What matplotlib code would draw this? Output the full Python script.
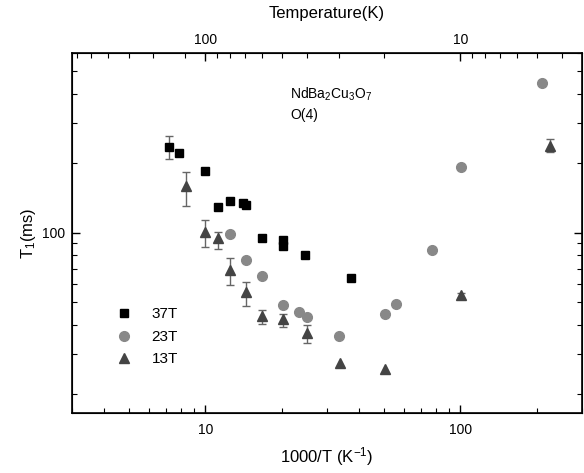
import numpy as np
import matplotlib
matplotlib.use("Agg")
import matplotlib.pyplot as plt
from matplotlib.ticker import FixedLocator, NullFormatter, FixedFormatter

plt.rcParams["font.family"] = ["Liberation Sans", "DejaVu Sans"]
plt.rcParams["mathtext.fontset"] = "custom"
plt.rcParams["mathtext.rm"] = "Liberation Sans"
plt.rcParams["mathtext.it"] = "Liberation Sans:italic"

# 37T
x37 = [7.2, 7.86, 10.0, 11.2, 12.5, 14.0, 14.4, 16.7, 20.1, 20.1, 24.6, 37.4]
y37 = [236, 221, 185, 129, 137, 134, 132, 95, 93, 88, 80, 64]
lo37 = [209, np.nan, np.nan, np.nan, np.nan, np.nan, np.nan, np.nan, np.nan, np.nan, np.nan, np.nan]
hi37 = [261, np.nan, np.nan, np.nan, np.nan, np.nan, np.nan, np.nan, np.nan, np.nan, np.nan, np.nan]

# 23T
x23 = [12.5, 14.4, 16.7, 20.1, 23.4, 25.1, 33.5, 50.5, 56.1, 77.6, 101, 209]
y23 = [99, 76, 64.7, 48.6, 45.4, 43.3, 35.9, 44.6, 49.3, 84.4, 192, 447]

# 13T
x13 = [8.37, 10.0, 11.2, 12.5, 14.4, 16.7, 20.1, 25.1, 33.6, 50.5, 101, 225]
y13 = [159, 101, 95, 69, 55.2, 43.7, 42.3, 36.8, 27.2, 25.7, 53.6, 238]
lo13 = [131, 86.5, 85.3, 59.4, 48.0, 40.3, 39.1, 33.3, np.nan, np.nan, 52.2, 222.6]
hi13 = [183, 114, 101, 77.4, 61.2, 46.4, 44.5, 39.7, np.nan, np.nan, 55.0, 255]

x_major = [10, 100]
y_major = [100]
temp_major = [100, 10]
temp_minor = [320, 280, 240, 200, 160, 120, 90, 80, 70, 60, 50, 40, 30, 20, 9, 8, 7, 6, 5, 4]


def add_errors(ax, x, y, lo, hi, color):
    x, y, lo, hi = map(np.asarray, (x, y, lo, hi))
    ok = np.isfinite(lo)
    ax.errorbar(x[ok], y[ok], yerr=[y[ok] - lo[ok], hi[ok] - y[ok]], fmt="none",
                ecolor=color, elinewidth=1.0, capsize=3, capthick=1.0, zorder=2)


fig = plt.figure(figsize=(5.84, 4.73), dpi=100)
ax = fig.add_axes([0.1233, 0.127, 0.8733, 0.761])
ax.set_xscale("log")
ax.set_yscale("log")

add_errors(ax, x37, y37, lo37, hi37, "#666666")
add_errors(ax, x13, y13, lo13, hi13, "#666666")
ax.plot(x37, y37, "s", color="black", ms=6.3, mec="black", zorder=3, label="37T")
ax.plot(x23, y23, "o", color="#888888", ms=7, mec="#888888", zorder=3, label="23T")
ax.plot(x13, y13, "^", color="#444444", ms=7, mec="#444444", zorder=3, label="13T")

ax.set_xlim(3, 300)
ax.set_ylim(16.6, 600)
ax.xaxis.set_major_locator(FixedLocator(x_major))
ax.xaxis.set_major_formatter(FixedFormatter([str(v) for v in x_major]))
ax.yaxis.set_major_locator(FixedLocator(y_major))
ax.yaxis.set_major_formatter(FixedFormatter([str(v) for v in y_major]))
ax.xaxis.set_minor_formatter(NullFormatter())
ax.yaxis.set_minor_formatter(NullFormatter())
ax.tick_params(which="both", direction="in", top=False, right=True, labelsize=10)
ax.tick_params(axis="x", which="both", pad=7)
ax.tick_params(axis="y", which="both", pad=5)
ax.tick_params(which="major", length=6, width=1)
ax.tick_params(which="minor", length=3.5, width=0.8)
for s in ax.spines.values():
    s.set_linewidth(1.2)
ax.set_xlabel(r"1000/T (K$^{-1}$)", fontsize=12, labelpad=6)
ax.set_ylabel(r"T$_1$(ms)", fontsize=12, labelpad=3)

ax2 = ax.twiny()
ax2.set_xscale("log")
ax2.set_xlim(1000 / 3, 1000 / 300)
ax2.xaxis.set_major_locator(FixedLocator(temp_major))
ax2.xaxis.set_major_formatter(FixedFormatter([str(t) for t in temp_major]))
ax2.xaxis.set_minor_locator(FixedLocator(temp_minor))
ax2.xaxis.set_minor_formatter(NullFormatter())
ax2.tick_params(which="both", direction="in", labelsize=10, pad=4)
ax2.tick_params(which="major", length=6, width=1)
ax2.tick_params(which="minor", length=3.5, width=0.8)
ax2.set_xlabel("Temperature(K)", fontsize=12, labelpad=11)

ax.text(0.4275, 0.886, r"NdBa$_2$Cu$_3$O$_7$", transform=ax.transAxes, fontsize=10, va="center")
ax.text(0.4275, 0.828, "O(4)", transform=ax.transAxes, fontsize=10, va="center")

ax.legend(loc="upper left", bbox_to_anchor=(0.075, 0.31), frameon=False, fontsize=11,
          handlelength=1.0, handletextpad=1.3, labelspacing=0.55, borderaxespad=0)

fig.savefig("out.png", dpi=100)
